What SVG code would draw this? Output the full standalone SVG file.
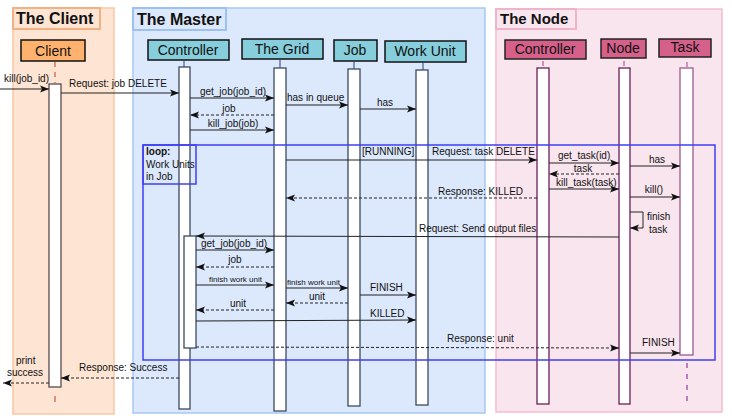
<svg xmlns="http://www.w3.org/2000/svg" width="732" height="420" viewBox="0 0 732 420">
<defs>
<marker id="ah" markerWidth="10" markerHeight="8" refX="9" refY="4" orient="auto" markerUnits="userSpaceOnUse"><path d="M0,0.5 L9,4 L0,7.5 L2,4 z" fill="#111"/></marker>
<style>
text{font-family:"Liberation Sans",Arial,sans-serif;fill:#111}
.title{font-size:16px;font-weight:bold}
.hd{font-size:14px;text-anchor:middle}
.lbl{font-size:10px}
.c{text-anchor:middle}
.sm{font-size:8px}
.msg{stroke:#222;stroke-width:1;fill:none;marker-end:url(#ah)}
.ret{stroke:#222;stroke-width:1;fill:none;stroke-dasharray:3,2;marker-end:url(#ah)}
.barM{fill:#fff;stroke:#3b4a60;stroke-width:1.3}
.barN{fill:#fff;stroke:#6b1f5c;stroke-width:1.3}
.hM{fill:#86cedb;stroke:#111;stroke-width:1.5}
.hN{fill:#d5608a;stroke:#222;stroke-width:1.5}
</style>
</defs>

<!-- frames -->
<g id="frame-client">
<rect x="13" y="8" width="101" height="406" fill="#fde4d3" stroke="#f9c8a5" stroke-width="1.5"/>
<rect x="13" y="8" width="87" height="21" fill="none" stroke="#f2b083" stroke-width="2"/>
<text class="title" x="16" y="24">The Client</text>
</g>
<g id="frame-master">
<rect x="133" y="8" width="352" height="405" fill="#dce8fc" stroke="#a8c7f8" stroke-width="1.5"/>
<rect x="133" y="8" width="93" height="22" fill="none" stroke="#9dc0f5" stroke-width="2"/>
<text class="title" x="137" y="25">The Master</text>
</g>
<g id="frame-node">
<rect x="496" y="9" width="226" height="403" fill="#f9e5ee" stroke="#f5bdd2" stroke-width="1.5"/>
<rect x="496" y="9" width="80" height="20" fill="none" stroke="#efb3ca" stroke-width="2"/>
<text class="title" x="500" y="24" style="font-size:15px">The Node</text>
</g>

<!-- lifelines -->
<g id="client">
<rect x="21" y="40" width="64" height="21" fill="#ffb26e" stroke="#111" stroke-width="1.5"/>
<text class="hd" x="53" y="56">Client</text>
<line x1="55" y1="62" x2="55" y2="83" stroke="#c0392b" stroke-width="1" stroke-dasharray="5,5"/>
<rect x="49" y="84" width="12" height="303" fill="#fff" stroke="#5a4a4a" stroke-width="1.3"/>
<line x1="55" y1="396" x2="55" y2="402" stroke="#c0392b" stroke-width="1"/>
</g>
<g id="m-controller">
<rect class="hM" x="148" y="40" width="81" height="20"/>
<text class="hd" x="188" y="55">Controller</text>
<line x1="184" y1="61" x2="184" y2="67" stroke="#2a3f7a"/>
<rect class="barM" x="179" y="67" width="11" height="342"/>
<rect class="barM" x="184" y="236" width="12" height="112"/>
</g>
<g id="m-grid">
<rect class="hM" x="242" y="39" width="81" height="20"/>
<text class="hd" x="282" y="54">The Grid</text>
<line x1="280" y1="59" x2="280" y2="68" stroke="#2a3f7a"/>
<rect class="barM" x="274" y="68" width="12" height="343"/>
</g>
<g id="m-job">
<rect class="hM" x="334" y="40" width="43" height="21"/>
<text class="hd" x="355" y="55">Job</text>
<line x1="354" y1="61" x2="354" y2="69" stroke="#2a3f7a"/>
<rect class="barM" x="348" y="69" width="12" height="337"/>
</g>
<g id="m-workunit">
<rect class="hM" x="385" y="41" width="81" height="21"/>
<text class="hd" x="425" y="56">Work Unit</text>
<line x1="423" y1="62" x2="423" y2="70" stroke="#2a3f7a"/>
<rect class="barM" x="416" y="70" width="12" height="335"/>
</g>
<g id="n-controller">
<rect class="hN" x="505" y="40" width="81" height="19"/>
<text class="hd" x="545" y="54">Controller</text>
<line x1="543" y1="61" x2="543" y2="66" stroke="#a04090"/>
<rect class="barN" x="537" y="68" width="12" height="336"/>
</g>
<g id="n-node">
<rect class="hN" x="601" y="39" width="45" height="19"/>
<text class="hd" x="623" y="53">Node</text>
<line x1="624" y1="61" x2="624" y2="66" stroke="#a04090"/>
<rect class="barN" x="619" y="68" width="11" height="336"/>
</g>
<g id="n-task">
<rect class="hN" x="659" y="39" width="52" height="18"/>
<text class="hd" x="685" y="52">Task</text>
<line x1="687" y1="62" x2="687" y2="67" stroke="#a04090"/>
<rect x="680" y="68" width="13" height="287" fill="#fff" stroke="#9a5a92" stroke-width="1.3"/>
<line x1="687" y1="363" x2="687" y2="402" stroke="#c07ac4" stroke-width="2" stroke-dasharray="5,6"/>
</g>

<!-- loop frame -->
<g id="loop">
<rect x="143" y="145" width="572" height="215" fill="none" stroke="#3f3ff5" stroke-width="1.5"/>
<rect x="143" y="145" width="53" height="39" fill="none" stroke="#3f3ff5" stroke-width="1.5"/>
<text class="lbl" x="146" y="155" style="font-weight:bold">loop:</text>
<text class="lbl" x="146" y="168">Work Units</text>
<text class="lbl" x="146" y="180">in Job</text>
</g>

<!-- connectors -->
<g id="connectors">
<line class="msg" x1="0" y1="89" x2="49" y2="89"/>
<text class="lbl" x="4" y="82">kill(job_id)</text>
<line class="msg" x1="61" y1="93" x2="179" y2="93"/>
<text class="lbl" x="69" y="87">Request: job DELETE</text>
<line class="msg" x1="190" y1="98" x2="274" y2="98"/>
<text class="lbl c" x="233" y="95">get_job(job_id)</text>
<line class="ret" x1="274" y1="115" x2="190" y2="115"/>
<text class="lbl c" x="229" y="112">job</text>
<line class="msg" x1="190" y1="130" x2="274" y2="130"/>
<text class="lbl c" x="233" y="127">kill_job(job)</text>
<line class="msg" x1="286" y1="105" x2="348" y2="105"/>
<text class="lbl" x="287" y="101">has in queue</text>
<line class="msg" x1="360" y1="109" x2="416" y2="109"/>
<text class="lbl c" x="385" y="106">has</text>

<line class="msg" x1="286" y1="160" x2="537" y2="160"/>
<text class="lbl" x="362" y="155">[RUNNING]</text>
<text class="lbl" x="432" y="155">Request: task DELETE</text>
<line class="msg" x1="549" y1="163" x2="619" y2="163"/>
<text class="lbl" x="558" y="159">get_task(id)</text>
<line class="ret" x1="619" y1="174" x2="549" y2="174"/>
<text class="lbl c" x="583" y="172">task</text>
<line class="msg" x1="549" y1="189" x2="619" y2="189"/>
<text class="lbl" x="556" y="186">kill_task(task)</text>
<line class="msg" x1="630" y1="166" x2="680" y2="166"/>
<text class="lbl c" x="657" y="163">has</text>
<line class="msg" x1="630" y1="197" x2="680" y2="197"/>
<text class="lbl c" x="654" y="193">kill()</text>
<line class="ret" x1="537" y1="198" x2="286" y2="198"/>
<text class="lbl" x="438" y="195">Response: KILLED</text>
<path class="msg" d="M630,212 H643 V228 H630"/>
<text class="lbl" x="647" y="220">finish</text>
<text class="lbl" x="649" y="233">task</text>
<line class="msg" x1="619" y1="237" x2="196" y2="236"/>
<text class="lbl" x="419" y="232">Request: Send output files</text>

<line class="msg" x1="196" y1="250" x2="274" y2="250"/>
<text class="lbl" x="201" y="247">get_job(job_id)</text>
<line class="ret" x1="274" y1="267" x2="196" y2="267"/>
<text class="lbl c" x="235" y="263">job</text>
<line class="msg" x1="196" y1="285" x2="274" y2="285"/>
<text class="sm" x="209" y="282">finish work unit</text>
<line class="msg" x1="286" y1="288" x2="348" y2="288"/>
<text class="sm" x="287" y="285">finish work unit</text>
<line class="ret" x1="348" y1="303" x2="286" y2="303"/>
<text class="lbl c" x="317" y="300">unit</text>
<line class="ret" x1="274" y1="310" x2="196" y2="310"/>
<text class="lbl c" x="238" y="307">unit</text>
<line class="msg" x1="360" y1="295" x2="416" y2="295"/>
<text class="lbl" x="370" y="291">FINISH</text>
<line class="msg" x1="196" y1="321" x2="416" y2="320"/>
<text class="lbl" x="370" y="317">KILLED</text>
<line class="ret" x1="196" y1="347" x2="619" y2="348"/>
<text class="lbl" x="447" y="342">Response: unit</text>
<line class="msg" x1="630" y1="353" x2="680" y2="353"/>
<text class="lbl" x="642" y="346">FINISH</text>
<line class="ret" x1="179" y1="378" x2="61" y2="378"/>
<text class="lbl" x="79" y="371">Response: Success</text>
<line class="ret" x1="49" y1="383" x2="3" y2="383"/>
<text class="lbl" x="16" y="364">print</text>
<text class="lbl" x="7" y="376">success</text>
</g>
</svg>
